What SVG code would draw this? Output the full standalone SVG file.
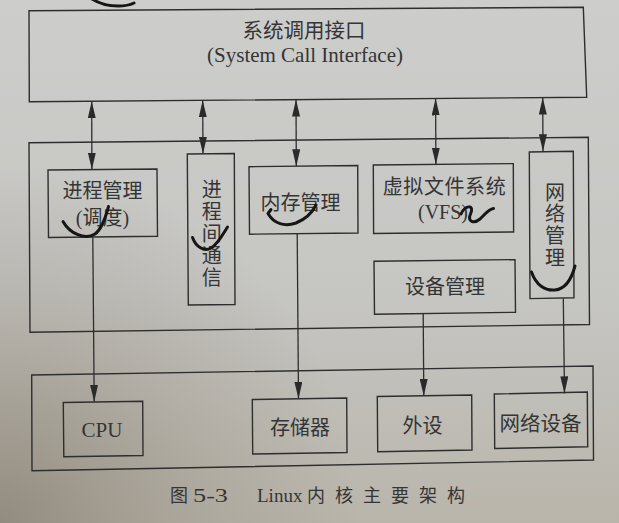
<svg xmlns="http://www.w3.org/2000/svg" width="619" height="523" viewBox="0 0 619 523">
  <defs>
    <style>
      .box { fill: none; stroke: #2e2e2e; stroke-width: 1.4; stroke-linejoin: miter; }
      .link { fill: none; stroke: #2e2e2e; stroke-width: 1.3; }
      .zh { font-family: "Noto Sans CJK SC", "Noto Sans", sans-serif; font-size: 20px; fill: #353535; }
      .en { font-family: "Liberation Serif", "Noto Sans CJK SC", serif; font-size: 20px; fill: #353535; }
      .vert { writing-mode: vertical-rl; text-orientation: upright; }
      .pen { fill: none; stroke: #161616; stroke-width: 3; stroke-linecap: round; stroke-linejoin: round; }
      .mid { text-anchor: middle; }
    </style>
    <linearGradient id="paper" x1="0" y1="0" x2="0" y2="1">
      <stop offset="0" stop-color="#cdcdcb"/>
      <stop offset="0.55" stop-color="#c6c6c3"/>
      <stop offset="1" stop-color="#b9b5ab"/>
    </linearGradient>
    <radialGradient id="shade" cx="0" cy="523" r="360" gradientUnits="userSpaceOnUse">
      <stop offset="0" stop-color="#857d70" stop-opacity="0.75"/>
      <stop offset="0.6" stop-color="#958d80" stop-opacity="0.3"/>
      <stop offset="1" stop-color="#958d80" stop-opacity="0"/>
    </radialGradient>
    <marker id="head" viewBox="0 0 17 8" refX="17" refY="4" markerWidth="17" markerHeight="8" markerUnits="userSpaceOnUse" orient="auto-start-reverse">
      <path d="M0,0 L17,4 L0,8 Z" fill="#2a2a2a"/>
    </marker>
  </defs>

  <!-- page -->
  <rect x="0" y="0" width="619" height="523" fill="url(#paper)"/>
  <rect x="0" y="0" width="619" height="523" fill="url(#shade)"/>

  <!-- connectors -->
  <g id="connectors">
    <path class="link" d="M91.7,101.2 L91.9,169.6" marker-start="url(#head)" marker-end="url(#head)"/>
    <path class="link" d="M202.7,100.3 L203,153.8" marker-start="url(#head)" marker-end="url(#head)"/>
    <path class="link" d="M296,99.6 L296.3,166.3" marker-start="url(#head)" marker-end="url(#head)"/>
    <path class="link" d="M435.6,98.5 L435.9,164.6" marker-start="url(#head)" marker-end="url(#head)"/>
    <path class="link" d="M542.7,97.6 L543,151.3" marker-start="url(#head)" marker-end="url(#head)"/>
    <path class="link" d="M92.8,237 L94.2,401.8" marker-end="url(#head)"/>
    <path class="link" d="M297.2,234 L298.5,398.8" marker-end="url(#head)"/>
    <path class="link" d="M423.2,313.5 L423.8,395.8" marker-end="url(#head)"/>
    <path class="link" d="M563.3,298.2 L564.5,393.4" marker-end="url(#head)"/>
  </g>

  <!-- system call interface -->
  <g id="syscall">
    <polygon class="box" points="29,10.7 583.3,7.3 586.7,97.3 29.3,101.7"/>
    <text class="zh mid" x="304" y="38" style="font-size:20.5px">系统调用接口</text>
    <text class="en mid" x="305" y="62" style="font-size:21px">(System Call Interface)</text>
  </g>

  <!-- kernel subsystems frame -->
  <g id="kernel">
    <polygon class="box" points="29,142.7 588.3,137.3 589.5,324.5 30,332.3"/>
  </g>

  <g id="process-mgmt">
    <polygon class="box" points="48,170 157,169 157.5,236.3 48.5,237.5"/>
    <text class="zh mid" x="102.5" y="198">进程管理</text>
    <text class="en mid" x="102.5" y="224.5">(调度)</text>
  </g>

  <g id="ipc">
    <polygon class="box" points="187.3,154 234.3,153.5 235,304.5 188.3,305"/>
    <text class="zh vert" x="211.7" y="179" style="letter-spacing:2.2px">进程间通信</text>
  </g>

  <g id="memory-mgmt">
    <polygon class="box" points="249,166.7 357.7,165.5 358,233 249.5,234.2"/>
    <text class="zh mid" x="300.5" y="210">内存管理</text>
  </g>

  <g id="vfs">
    <polygon class="box" points="373.3,165 513.3,163.6 513.6,232 373.6,233.5"/>
    <text class="zh mid" x="444.5" y="194" style="letter-spacing:0.6px">虚拟文件系统</text>
    <text class="en mid" x="443" y="218.5">(VFS)</text>
  </g>

  <g id="device-mgmt">
    <polygon class="box" points="374,261.3 515,259.6 515.5,312.3 374.5,314.2"/>
    <text class="zh mid" x="445" y="293.5">设备管理</text>
  </g>

  <g id="net-mgmt">
    <polygon class="box" points="529.3,152 573.3,151.3 574,297.8 530,298.6"/>
    <text class="zh vert" x="555" y="182" style="letter-spacing:1.8px">网络管理</text>
  </g>

  <!-- hardware frame -->
  <g id="hardware">
    <polygon class="box" points="31.7,375 593,366 593.5,460 32,470.7"/>
  </g>

  <g id="cpu">
    <polygon class="box" points="63.3,402.5 142.7,401.2 143,455.5 63.8,456.8"/>
    <text class="en mid" x="102" y="436.5" style="font-size:21px">CPU</text>
  </g>

  <g id="storage">
    <polygon class="box" points="252.3,399.5 346.7,398 347,452.5 252.7,454"/>
    <text class="zh mid" x="300" y="434.5">存储器</text>
  </g>

  <g id="peripheral">
    <polygon class="box" points="377.3,396.5 471.7,395 472,450 377.7,451.7"/>
    <text class="zh mid" x="422.5" y="433">外设</text>
  </g>

  <g id="net-device">
    <polygon class="box" points="494.3,394 587.3,392 587.7,446.8 494.7,448.5"/>
    <text class="zh mid" x="540.5" y="431" style="font-size:20.5px">网络设备</text>
  </g>

  <!-- handwritten pen strokes -->
  <g id="pen-marks">
    <path class="pen" d="M92,-1 C100,4 108,6 118,6 C125,6 130,5 134,3"/>
    <path class="pen" d="M63,221.5 C70,234 85,240 95,234 C102,229 106,216 108.5,206.5"/>
    <path class="pen" d="M192.5,237.5 C196,247 204,252 211,248 C218,244 223,234 227.5,227"/>
    <path class="pen" d="M271,209.5 L268,213.5 C274,224 285,227 296,223 C306,219 312,213 316,205"/>
    <path class="pen" d="M461,214 C465,205 475,204 470.5,214 C467,222 474,224 480,219 C485,214 489,209 493.5,208.5"/>
    <path class="pen" d="M531.5,272 C536,285 545,291 555,290 C565,289 571,281 575,266"/>
  </g>

  <!-- caption -->
  <g id="caption">
    <text class="zh" x="170" y="502" style="font-size:18px">图</text>
    <text class="en" x="193" y="502" style="font-size:19px" textLength="35" lengthAdjust="spacingAndGlyphs">5-3</text>
    <text class="en" x="257" y="502" style="font-size:19px">Linux</text>
    <text class="zh" x="307" y="502" style="font-size:18px" textLength="158" lengthAdjust="spacing">内核主要架构</text>
  </g>
</svg>
